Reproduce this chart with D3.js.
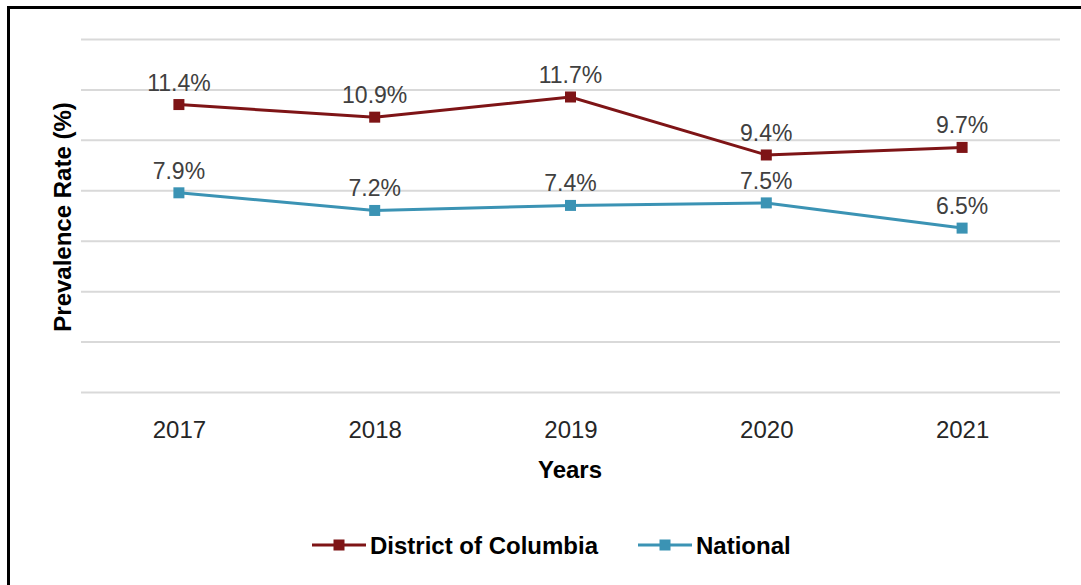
<!DOCTYPE html>
<html>
<head>
<meta charset="utf-8">
<script src="https://cdn.jsdelivr.net/npm/d3@7"></script>
<style>
  html, body { margin: 0; padding: 0; background: #fff; }
  svg { display: block; }
</style>
</head>
<body>
<svg id="chart" width="1081" height="585"></svg>
<script>
// Years on the x axis
const years = ["2017", "2018", "2019", "2020", "2021"];

// Prevalence rates (%) per year
const dcValues = [11.4, 10.9, 11.7, 9.4, 9.7];
const nationalValues = [7.9, 7.2, 7.4, 7.5, 6.5];

// Y gridline values
const yTicks = [0, 2, 4, 6, 8, 10, 12, 14];

const seriesNames = ["District of Columbia", "National"];
const seriesColors = ["#7e1416", "#3b93b4"];

const svg = d3.select("#chart");
const W = 1081, H = 585;

// Frame around the chart area
svg.append("rect")
  .attr("x", 8.5).attr("y", 7.5)
  .attr("width", W + 20).attr("height", H + 20)
  .attr("fill", "none").attr("stroke", "#000").attr("stroke-width", 3);

const plot = { left: 81, right: 1060, top: 39, bottom: 392 };

const x = d3.scalePoint().domain(years).range([plot.left, plot.right]).padding(0.5);
const y = d3.scaleLinear().domain([0, 14]).range([plot.bottom, plot.top]);

// Horizontal gridlines
const yAxis = d3.axisLeft(y).tickValues(yTicks)
  .tickSize(-(plot.right - plot.left)).tickFormat("");
const gy = svg.append("g")
  .attr("transform", `translate(${plot.left},0)`)
  .call(yAxis);
gy.select(".domain").remove();
gy.selectAll(".tick line").attr("stroke", "#d9d9d9").attr("stroke-width", 2);

// Year labels
const xAxis = d3.axisBottom(x).tickSize(0).tickPadding(0);
const gx = svg.append("g")
  .attr("transform", `translate(0,${plot.bottom})`)
  .call(xAxis);
gx.select(".domain").remove();
gx.selectAll(".tick text")
  .attr("dy", null).attr("y", 46)
  .attr("font-family", "Liberation Sans, Arial, sans-serif")
  .attr("font-size", 24).attr("fill", "#262626");

// Axis titles
svg.append("text")
  .attr("x", 570).attr("y", 478)
  .attr("text-anchor", "middle")
  .attr("font-family", "Liberation Sans, Arial, sans-serif")
  .attr("font-weight", "bold").attr("font-size", 24).attr("fill", "#000")
  .text("Years");

svg.append("text")
  .attr("transform", "translate(71,217) rotate(-90)")
  .attr("text-anchor", "middle")
  .attr("font-family", "Liberation Sans, Arial, sans-serif")
  .attr("font-weight", "bold").attr("font-size", 24).attr("fill", "#000")
  .text("Prevalence Rate (%)");

// Lines, markers and value labels
const series = [dcValues, nationalValues];
const line = d3.line().x((d, i) => x(years[i])).y(d => y(d));
const M = 11;

series.forEach((vals, s) => {
  const color = seriesColors[s];
  svg.append("path")
    .datum(vals)
    .attr("d", line)
    .attr("fill", "none").attr("stroke", color).attr("stroke-width", 3);

  svg.selectAll(null).data(vals).enter().append("rect")
    .attr("x", (d, i) => x(years[i]) - M / 2)
    .attr("y", d => y(d) - M / 2)
    .attr("width", M).attr("height", M)
    .attr("fill", color);

  svg.selectAll(null).data(vals).enter().append("text")
    .attr("x", (d, i) => x(years[i]))
    .attr("y", d => y(d) - 14)
    .attr("text-anchor", "middle")
    .attr("font-family", "Liberation Sans, Arial, sans-serif")
    .attr("font-size", 23).attr("fill", "#404040")
    .text(d => d.toFixed(1) + "%");
});

// Legend
const legendItems = [
  { name: seriesNames[0], color: seriesColors[0], x0: 312 },
  { name: seriesNames[1], color: seriesColors[1], x0: 638 }
];
const legendY = 545;
legendItems.forEach(item => {
  const g = svg.append("g");
  g.append("line")
    .attr("x1", item.x0).attr("x2", item.x0 + 54)
    .attr("y1", legendY).attr("y2", legendY)
    .attr("stroke", item.color).attr("stroke-width", 3);
  g.append("rect")
    .attr("x", item.x0 + 27 - M / 2).attr("y", legendY - M / 2)
    .attr("width", M).attr("height", M)
    .attr("fill", item.color);
  g.append("text")
    .attr("x", item.x0 + 58).attr("y", legendY + 8.5)
    .attr("font-family", "Liberation Sans, Arial, sans-serif")
    .attr("font-weight", "bold").attr("font-size", 24).attr("fill", "#000")
    .text(item.name);
});
</script>
</body>
</html>
